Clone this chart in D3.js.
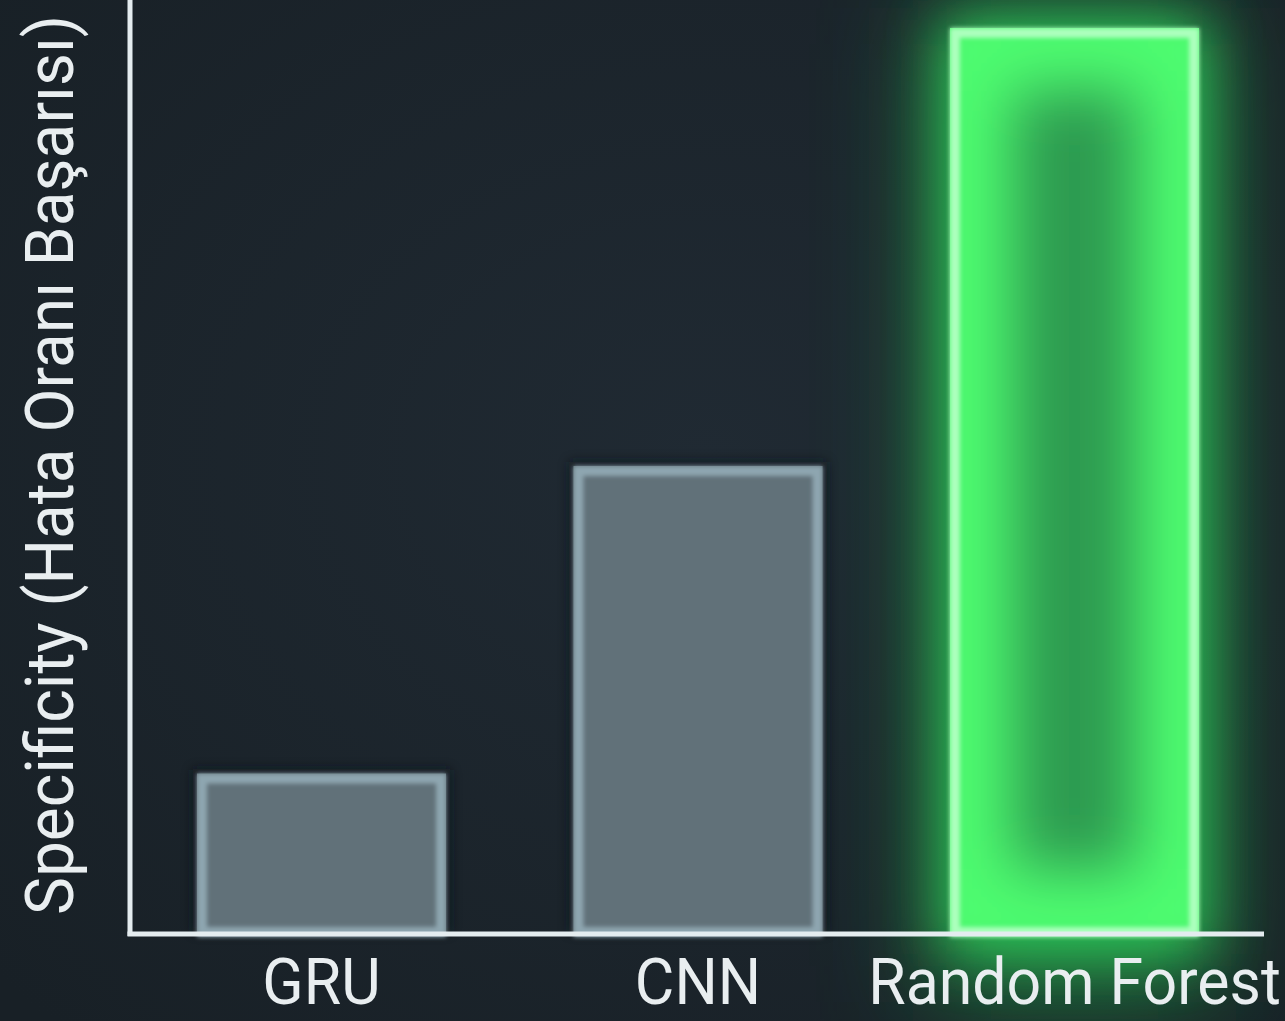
<!DOCTYPE html>
<html>
<head>
<meta charset="utf-8">
<script src="https://cdn.jsdelivr.net/npm/d3@7/dist/d3.min.js"></script>
<style>
  html, body { margin: 0; padding: 0; background: #1b2229; }
  svg { display: block; }
</style>
</head>
<body>
<svg id="chart" width="1285" height="1021"></svg>
<script>
// Model names and their specificity scores
const models = ["GRU", "CNN", "Random Forest"];
const specificity = [0.17, 0.50, 0.97];
const highlighted = ["Random Forest"];
const yAxisTitle = "Specificity (Hata Oranı Başarısı)";

const W = 1285, H = 1021;
const baseY = 932;
const axisX = 130;

const svg = d3.select("#chart");
const defs = svg.append("defs");

// background gradient: slightly lighter toward the centre
const bg = defs.append("radialGradient").attr("id", "bgGrad")
  .attr("cx", "55%").attr("cy", "45%").attr("r", "75%");
bg.append("stop").attr("offset", "0%").attr("stop-color", "#202a33");
bg.append("stop").attr("offset", "100%").attr("stop-color", "#182026");
svg.append("rect").attr("width", W).attr("height", H).attr("fill", "url(#bgGrad)");

const x = d3.scaleBand()
  .domain(models)
  .range([121.7, 1274.3])
  .paddingInner(0.3386)
  .paddingOuter(0.2);

const y = d3.scaleLinear().domain([0, 1]).range([baseY, 0]);

const data = models.map((m, i) => ({ model: m, value: specificity[i], hot: highlighted.includes(m) }));

// filters
const fBlurHuge = defs.append("filter").attr("id", "glowHuge")
  .attr("x", "-100%").attr("y", "-40%").attr("width", "300%").attr("height", "180%");
fBlurHuge.append("feGaussianBlur").attr("stdDeviation", 55);

const fBlurBig = defs.append("filter").attr("id", "glowBig")
  .attr("x", "-80%").attr("y", "-30%").attr("width", "260%").attr("height", "160%");
fBlurBig.append("feGaussianBlur").attr("stdDeviation", 28);

const fBlurMid = defs.append("filter").attr("id", "glowMid")
  .attr("x", "-50%").attr("y", "-50%").attr("width", "200%").attr("height", "200%");
fBlurMid.append("feGaussianBlur").attr("stdDeviation", 30);

const fBlurSmall = defs.append("filter").attr("id", "glowSmall")
  .attr("x", "-20%").attr("y", "-20%").attr("width", "140%").attr("height", "140%");
fBlurSmall.append("feGaussianBlur").attr("stdDeviation", 2);

const fShadow = defs.append("filter").attr("id", "shadow")
  .attr("x", "-20%").attr("y", "-20%").attr("width", "140%").attr("height", "140%");
fShadow.append("feGaussianBlur").attr("stdDeviation", 6);

const plain = data.filter(d => !d.hot);
const hot = data.filter(d => d.hot);

// outer green glow behind the highlighted bar (wide haze + tighter halo)
const glowLayer = svg.append("g");
glowLayer.selectAll("rect.glow-haze").data(hot).join("rect")
  .attr("class", "glow-haze")
  .attr("x", d => x(d.model) - 20)
  .attr("y", d => y(d.value) - 20)
  .attr("width", x.bandwidth() + 40)
  .attr("height", d => baseY - y(d.value) + 90)
  .attr("fill", "#22a848")
  .attr("opacity", 0.6)
  .attr("filter", "url(#glowHuge)");
glowLayer.selectAll("rect.glow-outer").data(hot).join("rect")
  .attr("class", "glow-outer")
  .attr("x", d => x(d.model) - 8)
  .attr("y", d => y(d.value) - 8)
  .attr("width", x.bandwidth() + 16)
  .attr("height", d => baseY - y(d.value) + 30)
  .attr("fill", "#33dc5e")
  .attr("opacity", 0.8)
  .attr("filter", "url(#glowBig)");

// soft dark shadow under the grey bars
svg.append("g").selectAll("rect").data(plain).join("rect")
  .attr("x", d => x(d.model) - 4)
  .attr("y", d => y(d.value) - 4)
  .attr("width", x.bandwidth() + 8)
  .attr("height", d => baseY - y(d.value) + 4)
  .attr("fill", "#10161b")
  .attr("opacity", 0.7)
  .attr("filter", "url(#shadow)");

// grey bars
const greyBars = svg.append("g");
greyBars.selectAll("rect.fill").data(plain).join("rect")
  .attr("class", "fill")
  .attr("x", d => x(d.model))
  .attr("y", d => y(d.value))
  .attr("width", x.bandwidth())
  .attr("height", d => baseY - y(d.value))
  .attr("fill", "#617179");
greyBars.selectAll("rect.edge").data(plain).join("rect")
  .attr("class", "edge")
  .attr("x", d => x(d.model) + 5)
  .attr("y", d => y(d.value) + 5)
  .attr("width", x.bandwidth() - 10)
  .attr("height", d => baseY - y(d.value) - 5)
  .attr("fill", "none")
  .attr("stroke", "#8ea6b0")
  .attr("stroke-width", 10)
  .attr("filter", "url(#glowSmall)");

// highlighted bar: darker core, bright inner rim, pale border
hot.forEach((d, i) => {
  const bx = x(d.model), by = y(d.value), bw = x.bandwidth(), bh = baseY - y(d.value);
  const clipId = "clipHot" + i;
  defs.append("clipPath").attr("id", clipId)
    .append("rect").attr("x", bx).attr("y", by).attr("width", bw).attr("height", bh);
  const g = svg.append("g");
  g.append("rect").attr("x", bx).attr("y", by).attr("width", bw).attr("height", bh)
    .attr("fill", "#2d9a50");
  g.append("g").attr("clip-path", `url(#${clipId})`)
    .append("rect")
    .attr("x", bx + 8).attr("y", by + 8).attr("width", bw - 16).attr("height", bh - 16)
    .attr("fill", "none")
    .attr("stroke", "#4efc70")
    .attr("stroke-width", 110)
    .attr("filter", "url(#glowMid)");
  g.append("rect")
    .attr("x", bx + 5).attr("y", by + 5).attr("width", bw - 10).attr("height", bh - 5)
    .attr("fill", "none")
    .attr("stroke", "#acffbd")
    .attr("stroke-width", 10)
    .attr("filter", "url(#glowSmall)");
});

// axes
const axisG = svg.append("g");
axisG.append("line")
  .attr("x1", axisX).attr("x2", axisX)
  .attr("y1", 0).attr("y2", baseY + 4)
  .attr("stroke", "#e4ecef").attr("stroke-width", 5);
axisG.append("line")
  .attr("x1", axisX - 2.5).attr("x2", 1264)
  .attr("y1", baseY + 2).attr("y2", baseY + 2)
  .attr("stroke", "#e4ecef").attr("stroke-width", 5);

// category labels
svg.append("g").selectAll("text").data(data).join("text")
  .attr("transform", d => `translate(${x(d.model) + x.bandwidth() / 2},1004) scale(0.95,1)`)
  .attr("text-anchor", "middle")
  .attr("font-family", "Roboto, 'Noto Sans', sans-serif")
  .attr("font-size", 64)
  .attr("fill", "#e9eef0")
  .text(d => d.model);

// y axis title
svg.append("text")
  .attr("transform", `translate(73,465) rotate(-90) scale(0.97,1)`)
  .attr("text-anchor", "middle")
  .attr("font-family", "Roboto, 'Noto Sans', sans-serif")
  .attr("font-size", 66)
  .attr("fill", "#e9eef0")
  .text(yAxisTitle);
</script>
</body>
</html>
